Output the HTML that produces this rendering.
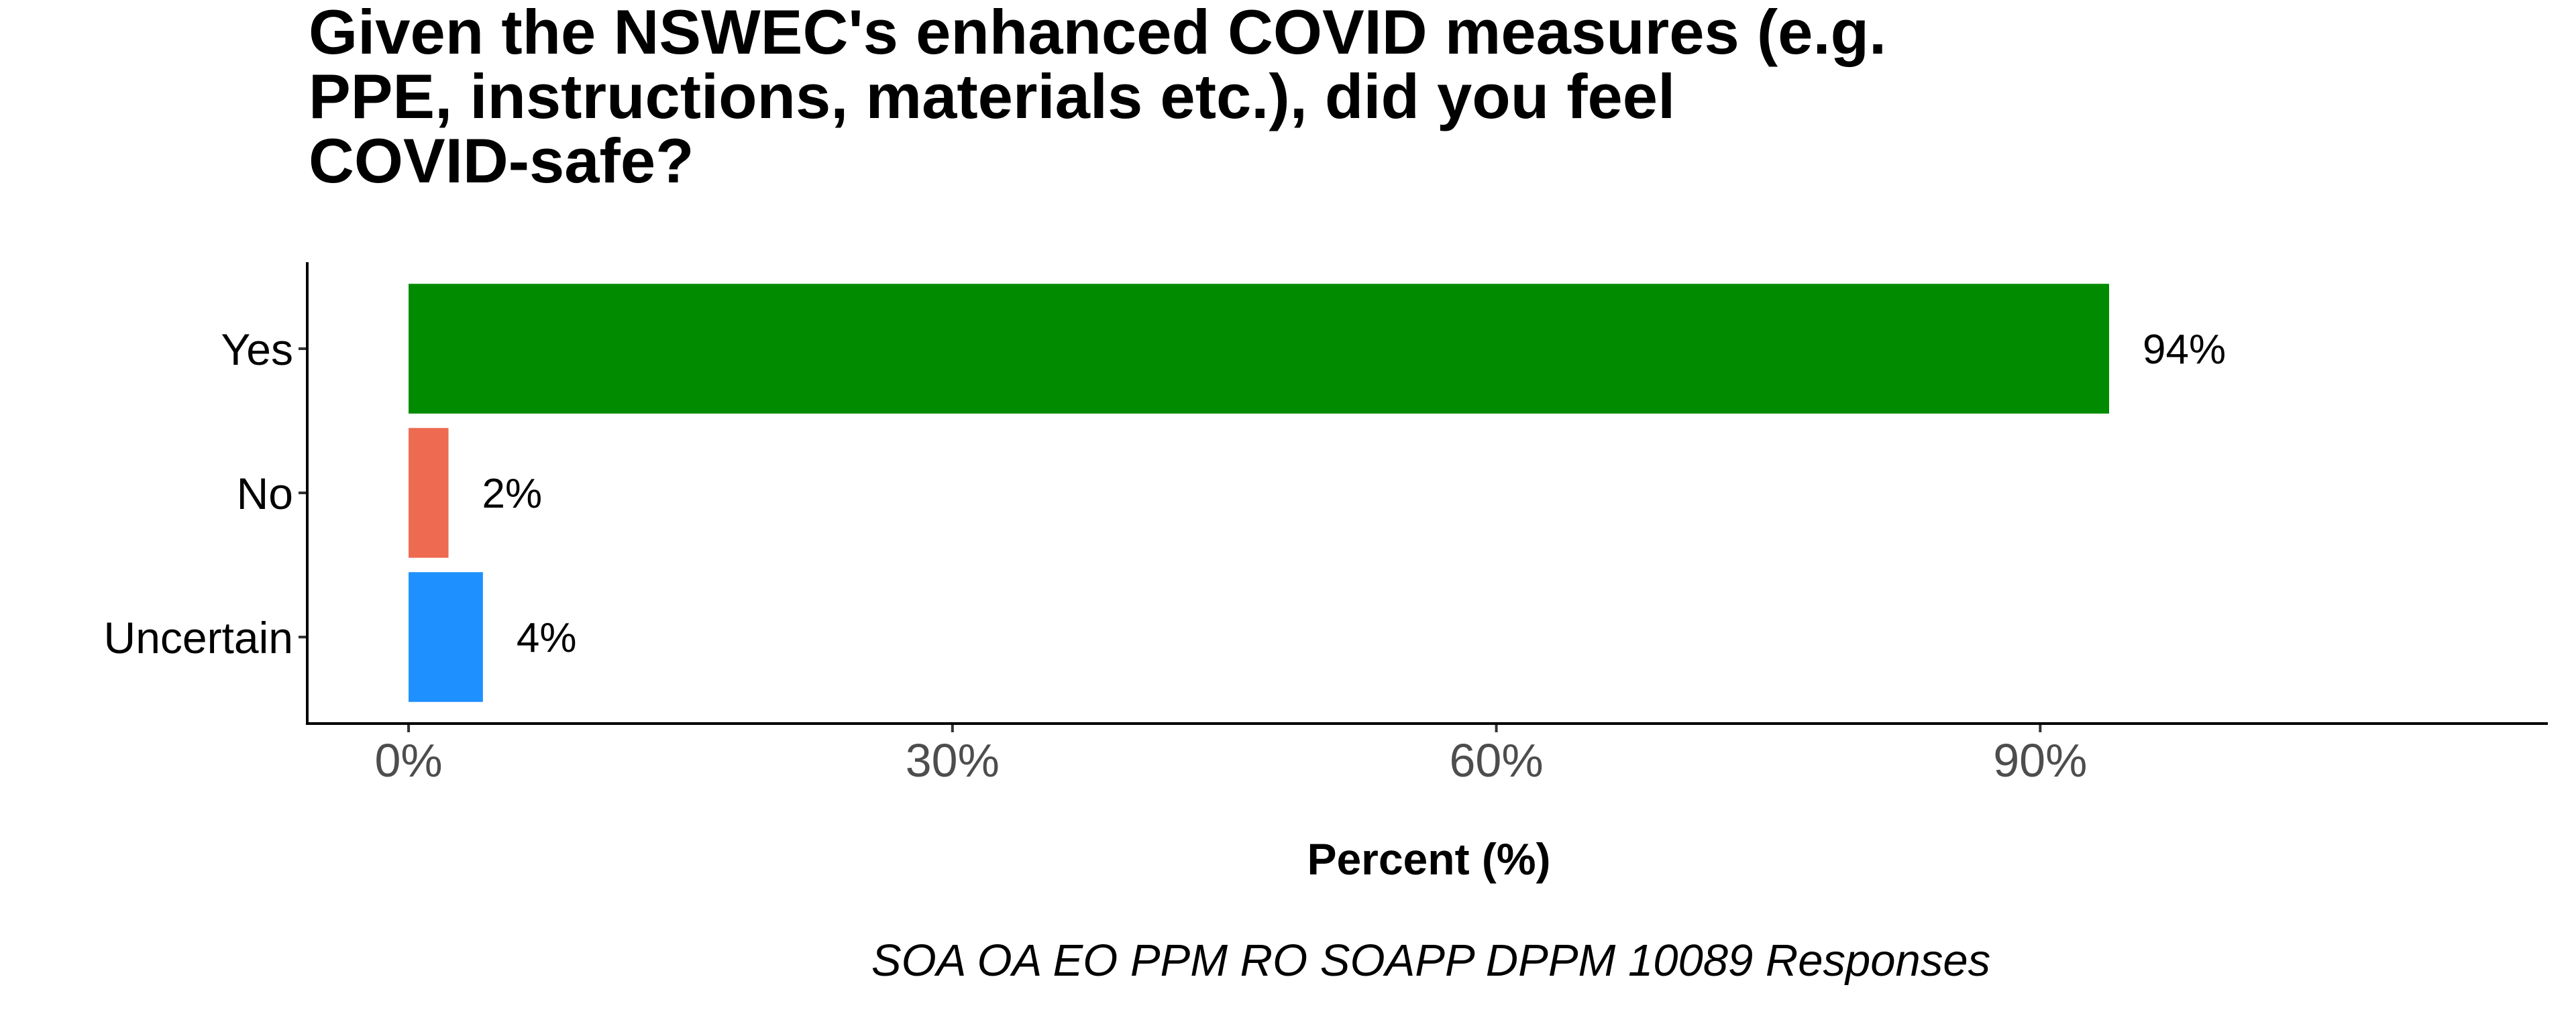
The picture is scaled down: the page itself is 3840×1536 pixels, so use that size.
<!DOCTYPE html>
<html><head><meta charset="utf-8">
<style>
html,body{margin:0;padding:0;background:#fff;}
svg{display:block;font-family:"Liberation Sans",Arial,sans-serif;}
</style></head>
<body>
<svg id="chart" width="3840" height="1536" viewBox="0 0 3840 1536">
<g font-weight="bold" font-size="94" fill="#000">
<text x="460" y="80">Given the NSWEC's enhanced COVID measures (e.g.</text>
<text x="460" y="176">PPE, instructions, materials etc.), did you feel</text>
<text x="460" y="272">COVID-safe?</text>
</g>
<g id="plot"></g>
<text x="2130" y="1304" text-anchor="middle" font-weight="bold" font-size="66">Percent (%)</text>
<text x="2133" y="1455" text-anchor="middle" font-style="italic" font-size="67">SOA OA EO PPM RO SOAPP DPPM 10089 Responses</text>
</svg>
<script>
const categories = ["Yes", "No", "Uncertain"];
const values = [93.8, 2.2, 4.1];
const valueLabels = ["94%", "2%", "4%"];
const colors = ["#008b00", "#ee6a50", "#1e90ff"];
const xTicks = [0, 30, 60, 90];
const xTickLabels = ["0%", "30%", "60%", "90%"];

const NS = "http://www.w3.org/2000/svg";
const plotLeft = 458, plotRight = 3798, plotTop = 391, plotBottom = 1079;
const xMin = -5.59, xMax = 118.0;
function x(v){ return plotLeft + (v - xMin) / (xMax - xMin) * (plotRight - plotLeft); }
const band = (plotBottom - plotTop) / (categories.length + 0.2);
function y(i){ return plotTop + band * (0.6 + i); }
const g = document.getElementById("plot");
function mk(tag, attrs){ const e = document.createElementNS(NS, tag); for (const k in attrs) e.setAttribute(k, attrs[k]); g.appendChild(e); return e; }

categories.forEach((c, i) => {
  const cy = y(i), h = band * 0.9;
  const r = mk("rect", {x: x(0), y: cy - h/2, width: x(values[i]) - x(0), height: h, fill: colors[i]});
  
  
  const t = mk("text", {x: x(values[i]) + 50, y: cy + 22, "font-size": 62, fill: "#000"});
  t.textContent = valueLabels[i];
  
  
  const tk = mk("line", {x1: plotLeft - 13, x2: plotLeft, y1: cy, y2: cy, stroke: "#333", "stroke-width": 4});
  
  
  const lb = mk("text", {x: 437, y: cy + 24, "text-anchor": "end", "font-size": 66, fill: "#000"});
  lb.textContent = c;
  
  
});
xTicks.forEach((v, i) => {
  const tk = mk("line", {x1: x(v), x2: x(v), y1: plotBottom, y2: plotBottom + 13, stroke: "#333", "stroke-width": 4});
  
  
  const lb = mk("text", {x: x(v), y: 1158, "text-anchor": "middle", "font-size": 70, fill: "#4d4d4d"});
  lb.textContent = xTickLabels[i];
  
  
});
const ya = mk("line", {x1: plotLeft, x2: plotLeft, y1: plotTop, y2: plotBottom + 2, stroke: "#000", "stroke-width": 4});


const xa = mk("line", {x1: plotLeft - 2, x2: plotRight, y1: plotBottom, y2: plotBottom, stroke: "#000", "stroke-width": 4});


</script>
</body></html>
